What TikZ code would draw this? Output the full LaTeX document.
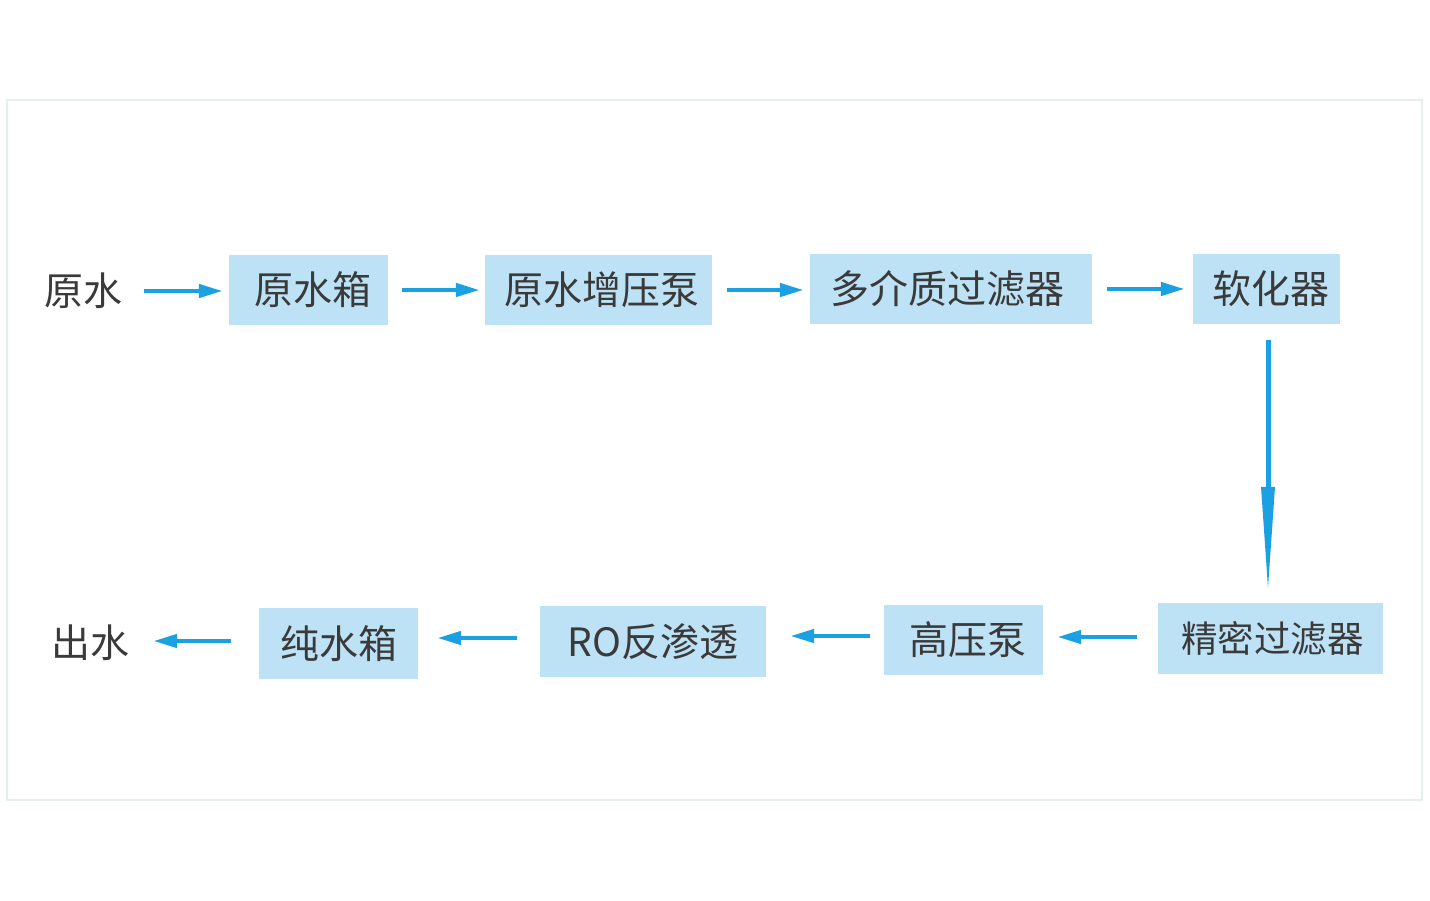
\documentclass[tikz,border=0pt]{standalone}
\usepackage{fontspec}
\setmainfont{Noto Sans CJK SC}
\usetikzlibrary{arrows.meta}
\definecolor{boxblue}{HTML}{BDE1F5}
\definecolor{arrblue}{HTML}{1BA0E2}
\definecolor{txt}{HTML}{3A3A3A}
\definecolor{frame}{HTML}{E6EFF0}
\tikzset{
  stepbox/.style={fill=boxblue, draw=none, inner sep=0pt, font=\fontsize{39}{42}\selectfont, text=txt},
  plain/.style={inner sep=0pt, font=\fontsize{39}{42}\selectfont, text=txt},
  arr/.style={draw=arrblue, line width=4.5pt, -{Triangle[length=24pt,width=13pt]}},
  shaft/.style={draw=arrblue, line width=5pt},
  vhead/.style={fill=arrblue, draw=none},
}
\begin{document}
\begin{tikzpicture}[x=1pt,y=-1pt]
\useasboundingbox (0,0) rectangle (1430,900);
\draw[frame, line width=1.2pt] (7,100) rectangle (1422,800);
% row 1
\node[plain] (in) at (83,291) {原水};
\node[stepbox, minimum width=159pt, minimum height=70pt] (b1) at (308.5,290) {\hspace*{8pt}原水箱};
\node[stepbox, minimum width=227pt, minimum height=70pt] (b2) at (598.5,290) {\hspace*{6pt}原水增压泵};
\node[stepbox, minimum width=282pt, minimum height=70pt] (b3) at (951,289) {\hspace*{-8pt}多介质过滤器};
\node[stepbox, minimum width=147pt, minimum height=70pt] (b4) at (1266.5,289) {\hspace*{8pt}软化器};
% row 2
\node[stepbox, minimum width=225pt, minimum height=71pt, font=\fontsize{36.5}{40}\selectfont] (b5) at (1270.5,638.5) {\hspace*{4pt}精密过滤器};
\node[stepbox, minimum width=159pt, minimum height=70pt] (b6) at (963.5,640) {\hspace*{8pt}高压泵};
\node[stepbox, minimum width=226pt, minimum height=71pt] (b7) at (653,641.5) {RO反渗透};
\node[stepbox, minimum width=159pt, minimum height=71pt] (b8) at (338.5,643.5) {纯水箱};
\node[plain] (out) at (90,643) {出水};
% arrow points
\coordinate (vs) at ([xshift=1.5pt,yshift=-16pt]b4.south);
\coordinate (vt) at ([xshift=1.5pt,yshift=15pt]b4.south |- b5.north);
\coordinate (vb) at ([yshift=101pt]vt);
\coordinate (s5) at ([xshift=-21pt,yshift=1.5pt]b5.west);
\coordinate (s6) at ([xshift=-14pt,yshift=4pt]b6.west);
\coordinate (s7) at ([xshift=-23pt,yshift=3.5pt]b7.west);
\coordinate (s8) at ([xshift=-28pt,yshift=2.5pt]b8.west);
% arrows
\draw[arr] ([xshift=22pt]in.east) -- ([xshift=-6pt]b1.west |- in.east);
\draw[arr] ([xshift=14pt]b1.east) -- ([xshift=-5pt]b2.west);
\draw[arr] ([xshift=15pt]b2.east) -- ([xshift=-6pt]b3.west |- b2.east);
\draw[arr] ([xshift=15pt]b3.east) -- ([xshift=-8pt]b4.west);
\draw[shaft] (vs) -- ([yshift=-1pt]vb);
\path[vhead] ([xshift=-7pt]vb) -- (vt) -- ([xshift=7pt]vb) -- cycle;
\draw[arr] (s5) -- ([xshift=14pt]b6.east |- s5);
\draw[arr] (s6) -- ([xshift=24pt]b7.east |- s6);
\draw[arr] (s7) -- ([xshift=19pt]b8.east |- s7);
\draw[arr] (s8) -- ([xshift=24pt]out.east |- s8);
\end{tikzpicture}
\end{document}
